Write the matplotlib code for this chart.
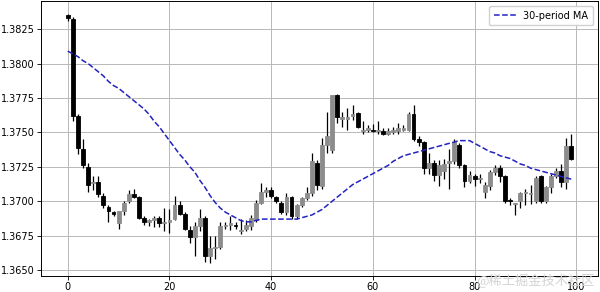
"""Candlestick chart with a 30-period moving average overlay."""

import matplotlib
matplotlib.use("Agg")
import matplotlib.pyplot as plt
import numpy as np

# OHLC values per period
opens = [
    1.3835, 1.3832, 1.3762, 1.3738, 1.3725, 1.3713, 1.3714, 1.3704, 1.3696, 1.3692,
    1.3684, 1.3693, 1.3700, 1.3705, 1.3703, 1.3688, 1.3685, 1.3686, 1.3688, 1.3684,
    1.3685, 1.3687, 1.3697, 1.3691, 1.3679, 1.3674, 1.3682, 1.3688, 1.3660, 1.3666,
    1.3667, 1.3682, 1.3683, 1.3683, 1.3678, 1.3680, 1.3682, 1.3686, 1.3699, 1.3707,
    1.3708, 1.3703, 1.3699, 1.3692, 1.3703, 1.3689, 1.3697, 1.3702, 1.3706, 1.3728,
    1.3711, 1.3741, 1.3737, 1.3777, 1.3760, 1.3760, 1.3762, 1.3764, 1.3751, 1.3752,
    1.3752, 1.3751, 1.3751, 1.3749, 1.3750, 1.3751, 1.3752, 1.3752, 1.3763, 1.3745,
    1.3743, 1.3724, 1.3728, 1.3719, 1.3722, 1.3728, 1.3729, 1.3741, 1.3726, 1.3715,
    1.3718, 1.3716, 1.3707, 1.3711, 1.3721, 1.3724, 1.3718, 1.3701, 1.3698, 1.3700,
    1.3706, 1.3705, 1.3700, 1.3718, 1.3700, 1.3710, 1.3718, 1.3722, 1.3714, 1.3740,
]
highs = [
    1.3836, 1.3834, 1.3763, 1.3745, 1.3728, 1.3718, 1.3718, 1.3706, 1.3697, 1.3693,
    1.3693, 1.3700, 1.3708, 1.3709, 1.3704, 1.3689, 1.3687, 1.3689, 1.3689, 1.3695,
    1.3694, 1.3704, 1.3700, 1.3692, 1.3682, 1.3685, 1.3694, 1.3689, 1.3675, 1.3675,
    1.3685, 1.3685, 1.3689, 1.3685, 1.3687, 1.3686, 1.3690, 1.3701, 1.3713, 1.3710,
    1.3710, 1.3704, 1.3700, 1.3706, 1.3704, 1.3698, 1.3703, 1.3710, 1.3735, 1.3730,
    1.3746, 1.3765, 1.3777, 1.3778, 1.3765, 1.3768, 1.3770, 1.3765, 1.3758, 1.3755,
    1.3756, 1.3758, 1.3753, 1.3753, 1.3754, 1.3757, 1.3755, 1.3765, 1.3770, 1.3747,
    1.3744, 1.3735, 1.3730, 1.3730, 1.3731, 1.3738, 1.3745, 1.3742, 1.3727, 1.3722,
    1.3720, 1.3720, 1.3714, 1.3723, 1.3726, 1.3726, 1.3719, 1.3702, 1.3699, 1.3707,
    1.3709, 1.3712, 1.3718, 1.3719, 1.3711, 1.3720, 1.3724, 1.3727, 1.3746, 1.3749,
]
lows = [
    1.3831, 1.3758, 1.3734, 1.3724, 1.3707, 1.3708, 1.3703, 1.3695, 1.3685, 1.3689,
    1.3680, 1.3690, 1.3699, 1.3702, 1.3687, 1.3683, 1.3682, 1.3681, 1.3681, 1.3678,
    1.3677, 1.3686, 1.3690, 1.3679, 1.3670, 1.3660, 1.3678, 1.3656, 1.3655, 1.3658,
    1.3665, 1.3680, 1.3679, 1.3680, 1.3676, 1.3678, 1.3679, 1.3685, 1.3698, 1.3703,
    1.3702, 1.3699, 1.3691, 1.3690, 1.3687, 1.3687, 1.3696, 1.3701, 1.3704, 1.3708,
    1.3709, 1.3735, 1.3735, 1.3757, 1.3754, 1.3752, 1.3759, 1.3753, 1.3749, 1.3750,
    1.3750, 1.3749, 1.3748, 1.3748, 1.3749, 1.3749, 1.3751, 1.3751, 1.3744, 1.3740,
    1.3720, 1.3720, 1.3715, 1.3711, 1.3716, 1.3709, 1.3727, 1.3724, 1.3710, 1.3713,
    1.3711, 1.3713, 1.3702, 1.3708, 1.3719, 1.3714, 1.3699, 1.3697, 1.3690, 1.3695,
    1.3697, 1.3698, 1.3699, 1.3699, 1.3699, 1.3706, 1.3717, 1.3710, 1.3709, 1.3730,
]
closes = [
    1.3833, 1.3762, 1.3739, 1.3726, 1.3712, 1.3714, 1.3705, 1.3697, 1.3693, 1.3691,
    1.3693, 1.3699, 1.3705, 1.3703, 1.3688, 1.3685, 1.3686, 1.3688, 1.3684, 1.3685,
    1.3686, 1.3697, 1.3691, 1.3680, 1.3674, 1.3682, 1.3688, 1.3660, 1.3666, 1.3667,
    1.3682, 1.3683, 1.3684, 1.3682, 1.3679, 1.3683, 1.3688, 1.3699, 1.3707, 1.3708,
    1.3704, 1.3700, 1.3692, 1.3703, 1.3689, 1.3697, 1.3702, 1.3706, 1.3729, 1.3712,
    1.3741, 1.3747, 1.3777, 1.3761, 1.3761, 1.3761, 1.3763, 1.3754, 1.3752, 1.3753,
    1.3751, 1.3752, 1.3749, 1.3751, 1.3752, 1.3753, 1.3753, 1.3763, 1.3745, 1.3743,
    1.3724, 1.3728, 1.3719, 1.3726, 1.3727, 1.3729, 1.3743, 1.3726, 1.3715, 1.3719,
    1.3716, 1.3717, 1.3712, 1.3721, 1.3724, 1.3718, 1.3700, 1.3700, 1.3699, 1.3706,
    1.3707, 1.3706, 1.3717, 1.3700, 1.3710, 1.3718, 1.3722, 1.3714, 1.3740, 1.3731,
]

# 30-period moving average (computed upstream over a longer history)
ma30 = [
    1.3809, 1.3807, 1.3805, 1.3802, 1.3800, 1.3797, 1.3794, 1.3791, 1.3787, 1.3784,
    1.3782, 1.3779, 1.3776, 1.3773, 1.3770, 1.3767, 1.3763, 1.3758, 1.3754, 1.3749,
    1.3744, 1.3739, 1.3734, 1.3730, 1.3725, 1.3721, 1.3715, 1.3710, 1.3704, 1.3699,
    1.3695, 1.3692, 1.3690, 1.3688, 1.3686, 1.3685, 1.3685, 1.3686, 1.3687, 1.3687,
    1.3687, 1.3687, 1.3687, 1.3687, 1.3687, 1.3687, 1.3688, 1.3689, 1.3690, 1.3692,
    1.3694, 1.3697, 1.3700, 1.3703, 1.3706, 1.3709, 1.3712, 1.3714, 1.3716, 1.3718,
    1.3720, 1.3722, 1.3724, 1.3726, 1.3729, 1.3731, 1.3733, 1.3734, 1.3735, 1.3736,
    1.3737, 1.3738, 1.3739, 1.3740, 1.3741, 1.3742, 1.3743, 1.3744, 1.3744, 1.3744,
    1.3742, 1.3740, 1.3738, 1.3736, 1.3735, 1.3733, 1.3732, 1.3731, 1.3729, 1.3727,
    1.3726, 1.3724, 1.3723, 1.3722, 1.3721, 1.3720, 1.3719, 1.3718, 1.3717, 1.3716,
]

UP_COLOR = "#8c8c8c"
DOWN_COLOR = "black"


def create_chart(output_path="out.png"):
    o = np.array(opens)
    h = np.array(highs)
    l = np.array(lows)
    c = np.array(closes)
    x = np.arange(len(o))

    fig = plt.figure(figsize=(6.0, 2.92), dpi=100)
    ax = fig.add_axes([0.068, 0.054, 0.929, 0.943])

    up = c >= o
    colors = np.where(up, UP_COLOR, DOWN_COLOR)

    # wicks
    ax.vlines(x, l, h, color="black", linewidth=0.9, zorder=2)

    # bodies
    bottom = np.minimum(o, c)
    height = np.abs(c - o)
    ax.bar(x, height, bottom=bottom, width=0.75, color=colors,
           edgecolor=colors, linewidth=0.6, zorder=3)

    # moving average
    ax.plot(x, ma30, linestyle="--", color="#2323c0", linewidth=1.1,
            label="30-period MA", zorder=4)

    ax.set_xlim(-5.3, 104.3)
    ax.set_ylim(1.36455, 1.38455)
    ax.set_xticks(np.arange(0, 101, 20))
    ax.set_yticks(np.arange(1.3650, 1.38251, 0.0025))
    ax.yaxis.set_major_formatter(plt.FuncFormatter(lambda v, p: f"{v:.4f}"))
    ax.tick_params(labelsize=7, length=3, width=0.6, pad=1.5)
    for s in ax.spines.values():
        s.set_linewidth(0.7)

    ax.grid(True, color="#b8b8b8", linewidth=0.7)
    ax.set_axisbelow(True)

    ax.legend(loc="upper right", fontsize=7, handlelength=2.2,
              borderpad=0.5, framealpha=0.9)

    # site watermark
    fig.text(0.992, 0.012, "@稀土掘金技术社区", ha="right", va="bottom",
             fontsize=9.5, color="#d4d4d4",
             family=["Noto Sans CJK SC", "DejaVu Sans"])

    fig.savefig(output_path, dpi=100)
    return fig


def main():
    create_chart()


if __name__ == "__main__":
    main()
